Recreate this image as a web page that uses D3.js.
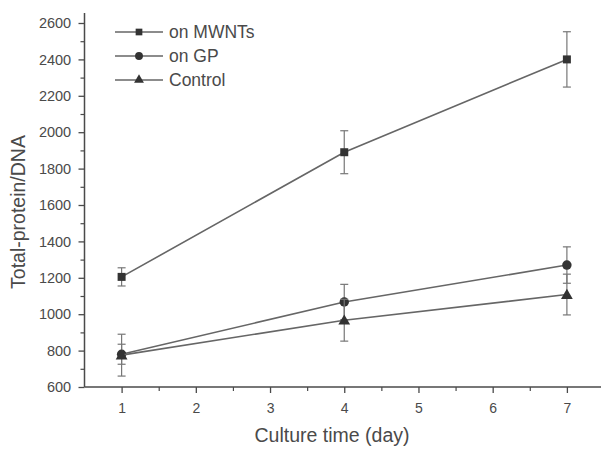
<!DOCTYPE html>
<html><head><meta charset="utf-8">
<script src="https://cdn.jsdelivr.net/npm/d3@7"></script>
<style>body{margin:0;background:#fff}svg{display:block;font-family:"Liberation Sans",Arial,sans-serif}</style>
</head><body><svg id="c" width="601" height="450"></svg>
<script>
const days = [1, 4, 7];
const seriesNames = ["on MWNTs", "on GP", "Control"];
const mwnts = [1205, 1890, 2400];
const mwntsErr = [50, 118, 152];
const gp = [780, 1067, 1270];
const gpErr = [55, 97, 100];
const control = [775, 967, 1108];
const controlErr = [115, 115, 112];
const xTicks = [1, 2, 3, 4, 5, 6, 7];
const yTicks = [600, 800, 1000, 1200, 1400, 1600, 1800, 2000, 2200, 2400, 2600];

const svg = d3.select("#c");
const x = d3.scaleLinear().domain([0.5, 7.5]).range([84.5, 604]);
const y = d3.scaleLinear().domain([600, 2600]).range([387, 23]);
const ink = "#4a4a4a", lineC = "#666";

// axes
const xAxis = svg.append("g").attr("transform", "translate(0,387)");
xAxis.append("line").attr("x1", x(0.5)).attr("x2", 601).attr("stroke", ink).attr("stroke-width", 1.5);
xAxis.call(g => {
  const gg = g.append("g");
  gg.call(d3.axisBottom(x).tickValues(xTicks).tickSize(6).tickFormat(d3.format("d")));
  gg.select(".domain").remove();
  gg.selectAll(".tick line").attr("stroke", ink).attr("stroke-width", 1.3);
  gg.selectAll("text").attr("fill", ink).attr("font-size", 14).attr("dy", "1.2em");
  const mg = g.append("g");
  mg.call(d3.axisBottom(x).tickValues(d3.range(1.5, 7.5, 1)).tickSize(4).tickFormat(""));
  mg.select(".domain").remove();
  mg.selectAll(".tick line").attr("stroke", ink).attr("stroke-width", 1.2);
});

const yAxis = svg.append("g").attr("transform", "translate(84.5,0)");
yAxis.append("line").attr("y1", 387).attr("y2", 13).attr("stroke", ink).attr("stroke-width", 1.5);
{
  const gg = yAxis.append("g");
  gg.call(d3.axisLeft(y).tickValues(yTicks).tickSize(6).tickFormat(d3.format("d")));
  gg.select(".domain").remove();
  gg.selectAll(".tick line").attr("stroke", ink).attr("stroke-width", 1.3);
  gg.selectAll("text").attr("fill", ink).attr("font-size", 14.5).attr("dx", "-0.3em");
  const mg = yAxis.append("g");
  mg.call(d3.axisLeft(y).tickValues(d3.range(700, 2700, 200)).tickSize(4).tickFormat(""));
  mg.select(".domain").remove();
  mg.selectAll(".tick line").attr("stroke", ink).attr("stroke-width", 1.2);
}

svg.append("text").attr("x", 332).attr("y", 442).attr("text-anchor", "middle")
  .attr("fill", ink).attr("font-size", 19.5).text("Culture time (day)");
svg.append("text").attr("transform", "translate(25,212) rotate(-90)").attr("text-anchor", "middle")
  .attr("fill", ink).attr("font-size", 19.5).text("Total-protein/DNA");

const series = [
  {name: seriesNames[0], v: mwnts, e: mwntsErr, sym: d3.symbolSquare, size: 64},
  {name: seriesNames[1], v: gp, e: gpErr, sym: d3.symbolCircle, size: 70},
  {name: seriesNames[2], v: control, e: controlErr, sym: d3.symbolTriangle, size: 60}
];
const line = d3.line().x(d => x(d[0])).y(d => y(d[1]));

series.forEach(s => {
  const pts = days.map((d, i) => [d, s.v[i], s.e[i]]);
  const g = svg.append("g");
  pts.forEach(p => {
    const cx = x(p[0]);
    g.append("line").attr("x1", cx).attr("x2", cx).attr("y1", y(p[1] - p[2])).attr("y2", y(p[1] + p[2]))
      .attr("stroke", "#777").attr("stroke-width", 1.2);
    [p[1] - p[2], p[1] + p[2]].forEach(v => g.append("line").attr("x1", cx - 4).attr("x2", cx + 4)
      .attr("y1", y(v)).attr("y2", y(v)).attr("stroke", "#777").attr("stroke-width", 1.2));
  });
  g.append("path").attr("d", line(pts)).attr("fill", "none").attr("stroke", lineC).attr("stroke-width", 1.6);
  pts.forEach(p => g.append("path").attr("d", d3.symbol(s.sym, s.size)())
    .attr("transform", `translate(${x(p[0])},${y(p[1]) + (s.sym === d3.symbolTriangle ? 1 : 0)})`).attr("fill", "#333"));
});

// legend
const leg = svg.append("g");
series.forEach((s, i) => {
  const ly = 32 + i * 24;
  leg.append("line").attr("x1", 115).attr("x2", 163).attr("y1", ly).attr("y2", ly).attr("stroke", lineC).attr("stroke-width", 1.5);
  leg.append("path").attr("d", d3.symbol(s.sym, s.size * 0.7)()).attr("transform", `translate(139,${ly})`).attr("fill", "#333");
  leg.append("text").attr("x", 169).attr("y", ly).attr("dy", "0.36em").attr("fill", ink).attr("font-size", 17.5).text(s.name);
});
</script></body></html>
